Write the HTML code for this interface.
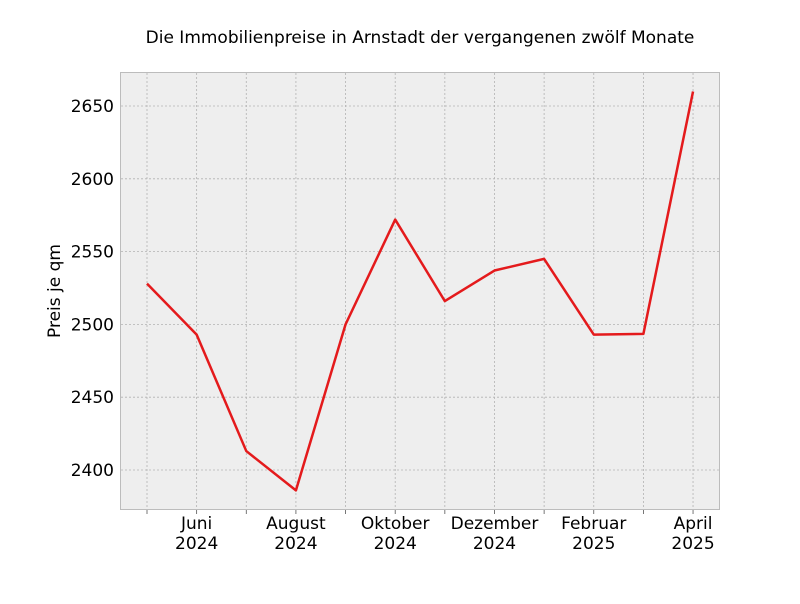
<!DOCTYPE html>
<html><head><meta charset="utf-8"><style>
body{margin:0;background:#fff;font-family:"DejaVu Sans","Liberation Sans",sans-serif;}
svg text{font-family:"DejaVu Sans","Liberation Sans",sans-serif;}
</style></head><body>
<svg id="chart" width="800" height="600" viewBox="0 0 800 600" xmlns="http://www.w3.org/2000/svg">
<rect width="800" height="600" fill="#fff"/>
<text x="420" y="43" text-anchor="middle" font-size="17" fill="#000">Die Immobilienpreise in Arnstadt der vergangenen zwölf Monate</text>
<rect x="120.5" y="72.5" width="599" height="437" fill="#eeeeee" stroke="#bcbcbc"/>
<g id="grid"></g><g id="ticks"></g>
<text transform="translate(60,291) rotate(-90)" text-anchor="middle" font-size="17" fill="#000">Preis je qm</text>
<path id="line" fill="none" stroke="#e41a1c" stroke-width="2.5" stroke-linejoin="round"/>
</svg>
<script>
const months=["Mai 2024","Juni 2024","Juli 2024","August 2024","September 2024","Oktober 2024","November 2024","Dezember 2024","Januar 2025","Februar 2025","März 2025","April 2025"];
const prices=[2528,2493,2413,2386,2500,2572,2516,2537,2545,2493,2493.5,2660];
const xLabels=[["Juni","2024"],["August","2024"],["Oktober","2024"],["Dezember","2024"],["Februar","2025"],["April","2025"]];
const xLabelIdx=[1,3,5,7,9,11];
const yTicks=[2400,2450,2500,2550,2600,2650];
const ns="http://www.w3.org/2000/svg";
const x=i=>147+i*49.64;
const y=v=>470-(v-2400)*1.456;
const grid=document.getElementById('grid'),ticks=document.getElementById('ticks');
function mk(t,a,p){const e=document.createElementNS(ns,t);for(const k in a)e.setAttribute(k,a[k]);p.appendChild(e);return e;}
months.forEach((m,i)=>{
 const g=mk('line',{x1:x(i),x2:x(i),y1:73,y2:509,stroke:'#b2b2b2','stroke-width':0.8,'stroke-dasharray':'2,2'},grid);
 
 
 const t=mk('line',{x1:x(i),x2:x(i),y1:510,y2:514,stroke:'#555','stroke-width':0.8},ticks);
 
 
});
yTicks.forEach(v=>{
 const g=mk('line',{x1:121,x2:719,y1:y(v),y2:y(v),stroke:'#b2b2b2','stroke-width':0.8,'stroke-dasharray':'2,2'},grid);
 
 
 const t=mk('text',{x:114,y:y(v)+6,'text-anchor':'end','font-size':17,fill:'#000'},ticks);
 t.textContent=v;
 
 
});
xLabelIdx.forEach((idx,k)=>{
 const t=mk('text',{x:x(idx),y:529,'text-anchor':'middle','font-size':17,fill:'#000'},ticks);
 
 
 const a=mk('tspan',{x:x(idx),dy:0},t);a.textContent=xLabels[k][0];
 const b=mk('tspan',{x:x(idx),dy:20},t);b.textContent=xLabels[k][1];
});
document.getElementById('line').setAttribute('d',prices.map((v,i)=>(i?'L':'M')+x(i)+','+y(v)).join(' '));
</script>
</body></html>
